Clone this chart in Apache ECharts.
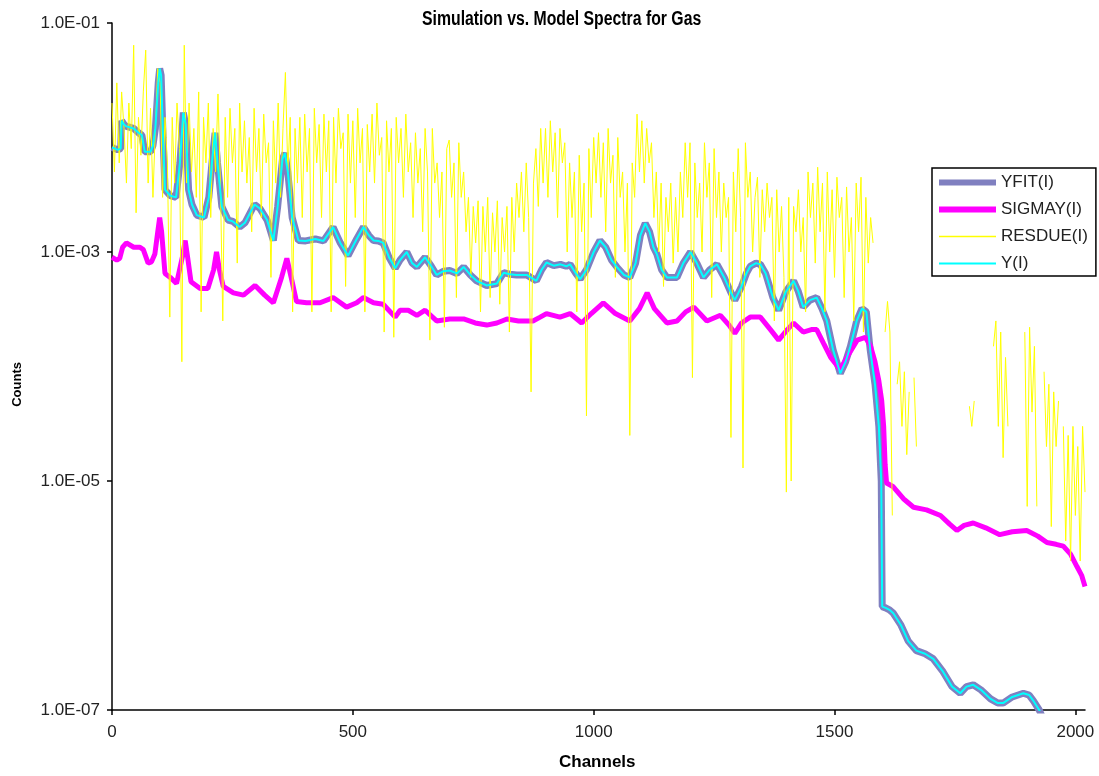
<!DOCTYPE html>
<html>
<head>
<meta charset="utf-8">
<script src="https://cdn.jsdelivr.net/npm/echarts@6/dist/echarts.min.js"></script>
<style>
  html, body { margin: 0; padding: 0; background: #fff; }
  #chart { width: 1099px; height: 776px; }
</style>
</head>
<body>
<div id="chart"></div>
<script>
// fitted spectrum YFIT(I): channel / counts
const fitCh = [0, 12, 18, 20, 25, 30, 45, 55, 62, 68, 80, 85, 90, 96, 99, 102, 106, 110, 121, 133,
  141, 148, 153, 159, 166, 176, 191, 201, 209, 214, 219, 228, 241, 251, 265, 276, 296, 307, 322, 335,
  344, 354, 359, 365, 374, 387, 402, 422, 439, 459, 474, 490, 508, 522, 533, 543, 553, 563, 575, 588,
  598, 612, 623, 633, 650, 663, 674, 688, 701, 716, 730, 744, 757, 778, 799, 813, 826, 840, 861, 881,
  892, 902, 917, 931, 943, 951, 963, 972, 985, 1000, 1013, 1025, 1037, 1048, 1063, 1075, 1087, 1097, 1107, 1116,
  1124, 1131, 1141, 1152, 1173, 1186, 1201, 1214, 1228, 1241, 1256, 1271, 1284, 1293, 1307, 1317, 1325, 1337, 1346, 1357,
  1372, 1384, 1399, 1415, 1425, 1435, 1449, 1463, 1474, 1484, 1497, 1512, 1523, 1533, 1546, 1557, 1566, 1574, 1584, 1592,
  1597, 1599, 1606, 1614, 1622, 1638, 1653, 1670, 1688, 1705, 1724, 1744, 1761, 1774, 1788, 1804, 1824, 1839, 1850, 1869,
  1892, 1904, 1913, 1925, 1935];
const fitVal = [8.2e-3, 7.8e-3, 8e-3, 1.4e-2, 1.3e-2, 1.25e-2, 1.2e-2, 1.1e-2, 1.05e-2, 7.5e-3, 7.5e-3, 8.5e-3, 1.2e-2, 3e-2, 4e-2, 3.5e-2, 1e-2, 3.5e-3, 3.1e-3, 3e-3,
  6e-3, 1.65e-2, 1.3e-2, 3.5e-3, 2.6e-3, 2.1e-3, 2e-3, 3e-3, 7e-3, 1.1e-2, 6e-3, 2.5e-3, 1.9e-3, 1.85e-3, 1.65e-3, 1.8e-3, 2.6e-3, 2.4e-3, 1.9e-3, 1.26e-3,
  2.5e-3, 6.5e-3, 7.3e-3, 5e-3, 2e-3, 1.26e-3, 1.25e-3, 1.3e-3, 1.25e-3, 1.65e-3, 1.2e-3, 9.3e-4, 1.3e-3, 1.65e-3, 1.4e-3, 1.26e-3, 1.25e-3, 1.2e-3, 9e-4, 7.2e-4,
  8.5e-4, 1e-3, 8e-4, 7.4e-4, 9e-4, 7.5e-4, 6.3e-4, 6.8e-4, 6.9e-4, 6.5e-4, 7.4e-4, 6.3e-4, 5.6e-4, 5.1e-4, 5.3e-4, 6.6e-4, 6.4e-4, 6.3e-4, 6.3e-4, 5.6e-4,
  7e-4, 8.1e-4, 7.6e-4, 7.8e-4, 7.5e-4, 7.8e-4, 6.5e-4, 5.8e-4, 7e-4, 1e-3, 1.26e-3, 1.1e-3, 8.5e-4, 7.4e-4, 6.3e-4, 6e-4, 8e-4, 1.4e-3, 1.78e-3, 1.5e-3,
  1.1e-3, 9.6e-4, 7e-4, 6e-4, 6e-4, 8e-4, 1e-3, 8e-4, 6e-4, 7e-4, 7.8e-4, 6e-4, 4.5e-4, 3.8e-4, 5e-4, 6.5e-4, 7.5e-4, 8e-4, 7.8e-4, 6.5e-4,
  4e-4, 3.1e-4, 4.5e-4, 5.6e-4, 4.5e-4, 3.3e-4, 3.8e-4, 4e-4, 3.2e-4, 2.5e-4, 1.4e-4, 8.7e-5, 1.1e-4, 1.5e-4, 2.5e-4, 3.2e-4, 3e-4, 1.4e-4, 7e-5, 3e-5,
  1e-5, 8e-7, 7.8e-7, 7.5e-7, 7e-7, 5.5e-7, 4e-7, 3.3e-7, 3.1e-7, 2.8e-7, 2.2e-7, 1.6e-7, 1.4e-7, 1.6e-7, 1.66e-7, 1.5e-7, 1.25e-7, 1.15e-7, 1.15e-7, 1.3e-7,
  1.4e-7, 1.35e-7, 1.2e-7, 1e-7, 8e-8];

// measured spectrum Y(I) lies on the fit within a line width
const obsCh = fitCh;
const obsVal = fitVal;

// SIGMAY(I)
const sigCh = [0, 10, 16, 22, 30, 45, 58, 65, 75, 82, 89, 95, 99, 103, 110, 121, 134, 146, 152, 157,
  164, 183, 199, 211, 217, 223, 231, 252, 273, 297, 317, 335, 352, 363, 372, 383, 404, 432, 459, 487,
  508, 522, 543, 563, 588, 598, 615, 633, 650, 674, 701, 730, 754, 778, 799, 820, 844, 874, 889, 902,
  930, 951, 975, 995, 1020, 1045, 1075, 1095, 1111, 1126, 1152, 1173, 1191, 1208, 1235, 1263, 1281, 1293, 1307, 1325,
  1346, 1367, 1384, 1402, 1415, 1435, 1452, 1463, 1477, 1492, 1512, 1528, 1547, 1564, 1575, 1584, 1592, 1598, 1602, 1605,
  1608, 1622, 1643, 1664, 1691, 1720, 1739, 1754, 1769, 1788, 1814, 1843, 1869, 1899, 1922, 1941, 1960, 1975, 1990, 2003,
  2013, 2020];
const sigVal = [9e-4, 8.5e-4, 8.8e-4, 1.1e-3, 1.2e-3, 1.1e-3, 1.1e-3, 1.05e-3, 8e-4, 8.2e-4, 9.6e-4, 1.5e-3, 2e-3, 1.5e-3, 6.5e-4, 6e-4, 5.3e-4, 9e-4, 1.26e-3, 9e-4,
  5.5e-4, 4.8e-4, 4.8e-4, 7e-4, 1e-3, 7e-4, 5e-4, 4.4e-4, 4.2e-4, 5.1e-4, 4.2e-4, 3.6e-4, 6e-4, 8.8e-4, 6e-4, 3.7e-4, 3.6e-4, 3.6e-4, 4e-4, 3.3e-4,
  3.6e-4, 4e-4, 3.6e-4, 3.5e-4, 2.7e-4, 3.1e-4, 3.1e-4, 2.8e-4, 3.1e-4, 2.5e-4, 2.6e-4, 2.6e-4, 2.4e-4, 2.3e-4, 2.4e-4, 2.6e-4, 2.5e-4, 2.5e-4, 2.7e-4, 2.9e-4,
  2.7e-4, 2.9e-4, 2.4e-4, 2.9e-4, 3.6e-4, 2.9e-4, 2.5e-4, 3.2e-4, 4.4e-4, 3.2e-4, 2.4e-4, 2.5e-4, 3e-4, 3.3e-4, 2.5e-4, 2.8e-4, 2.3e-4, 1.95e-4, 2.4e-4, 2.7e-4,
  2.7e-4, 2.1e-4, 1.7e-4, 2.1e-4, 2.4e-4, 2e-4, 2.1e-4, 2.1e-4, 1.6e-4, 1.2e-4, 9.4e-5, 1.25e-4, 1.7e-4, 1.8e-4, 1.5e-4, 1.1e-4, 7.5e-5, 5e-5, 3e-5, 1.4e-5,
  9.6e-6, 8.9e-6, 7e-6, 5.9e-6, 5.6e-6, 5e-6, 4.2e-6, 3.7e-6, 4.1e-6, 4.3e-6, 3.9e-6, 3.4e-6, 3.6e-6, 3.7e-6, 3.3e-6, 2.9e-6, 2.8e-6, 2.7e-6, 2.3e-6, 1.8e-6,
  1.5e-6, 1.2e-6];

// RESDUE(I), one value every 5 channels, null where the residual is not positive
const resStep = 5;
const resVal = [
  2e-2, 5e-3, 3e-2, 6e-3, 2.5e-2, 1.2e-2, 4e-3, 2e-2, 8e-3, 6.4e-2, 2.2e-3, 1.5e-2, 7e-3, 2.5e-2, 5.8e-2, 4e-3, 1.8e-2, 3e-3, 1.2e-2, 4e-2,
  3e-2, 3e-3, 1.5e-2, 6e-3, 2.7e-4, 1.5e-2, 4e-3, 2e-2, 8e-3, 1.1e-4, 6.4e-2, 4e-3, 2e-2, 5e-3, 1.2e-2, 3e-3, 2.5e-2, 3e-4, 1.5e-2, 6e-3,
  2e-2, 2e-3, 1.2e-2, 5e-3, 2.4e-2, 4e-3, 2.5e-4, 1.5e-2, 3e-3, 1.8e-2, 6e-3, 1.2e-2, 8e-4, 2e-2, 5e-3, 1.4e-2, 4e-3, 1e-2, 1.5e-3, 1.8e-2,
  5e-3, 1.2e-2, 2e-3, 1.6e-2, 6e-3, 9e-3, 6e-4, 1.4e-2, 4e-3, 2e-2, 3e-3, 1.2e-2, 3.7e-2, 5e-3, 1.5e-2, 3e-4, 1.2e-2, 4e-3, 1.5e-2, 2e-3,
  1.6e-2, 5e-3, 1.2e-2, 3e-4, 1.8e-2, 6e-3, 1.3e-2, 2e-3, 1.6e-2, 5e-3, 1.4e-2, 3e-4, 1.5e-2, 4e-3, 1.8e-2, 8e-3, 1.1e-2, 5e-4, 1.6e-2, 4e-3,
  1.4e-2, 2e-3, 1.8e-2, 6e-3, 1.2e-2, 3e-4, 1.3e-2, 5e-3, 1.6e-2, 4e-3, 2e-2, 7e-3, 1e-2, 2e-4, 1.4e-2, 5e-3, 1.2e-2, 1.8e-4, 1.5e-2, 6e-3,
  1.2e-2, 3e-3, 1.6e-2, 5e-3, 9e-3, 2e-3, 1.1e-2, 4e-3, 8e-3, 1.5e-3, 1.2e-2, 5e-3, 1.7e-4, 1.2e-2, 4e-3, 6e-3, 2e-3, 5e-3, 2.2e-4, 8e-3,
  9.5e-3, 3e-3, 6e-3, 4e-4, 9e-3, 3e-3, 5e-3, 1.5e-3, 3e-3, 6e-4, 2.5e-3, 1.2e-3, 2.8e-3, 3e-4, 2.5e-3, 1e-3, 3e-3, 4e-4, 2.2e-3, 1e-3,
  2.8e-3, 3.5e-4, 2e-3, 1e-3, 2.5e-3, 2e-4, 3e-3, 1e-3, 4e-3, 2e-3, 5e-3, 1.5e-3, 6e-3, 2e-3, 6e-5, 4e-3, 8e-3, 2.5e-3, 1.2e-2, 4e-3,
  1.2e-2, 3e-3, 1.4e-2, 5e-3, 1.1e-2, 2e-3, 1.2e-2, 6e-3, 9e-3, 1e-3, 6e-3, 2e-3, 5e-3, 3e-4, 7e-3, 1.5e-3, 4e-3, 3.7e-5, 8e-3, 2e-3,
  1e-2, 4e-3, 1.1e-2, 3e-3, 9e-3, 1.5e-3, 1.2e-2, 4e-3, 7e-3, 6e-4, 1e-2, 3e-3, 5e-3, 1e-3, 4e-3, 2.5e-5, 6e-3, 3e-3, 1.6e-2, 5e-3,
  1.4e-2, 4e-3, 1.2e-2, 6e-3, 9e-3, 2e-3, 5e-3, 1e-3, 4e-3, 5e-4, 3e-3, 1.5e-3, 4e-3, 8e-4, 3e-3, 1e-3, 5e-3, 2e-3, 9e-3, 3e-3,
  9e-3, 8e-5, 6e-3, 2e-3, 4e-3, 1e-3, 9e-3, 3e-3, 6e-3, 4e-4, 8e-3, 2e-3, 5e-3, 1e-3, 4e-3, 2e-3, 3e-3, 2.4e-5, 5e-3, 1.5e-3,
  8e-3, 2e-3, 1.3e-5, 9e-3, 3e-3, 5e-3, 1e-3, 3e-3, 4.5e-3, 6e-4, 3.5e-3, 1.5e-3, 4e-3, 2e-3, 3e-3, 2.5e-4, 3.5e-3, 1e-3, 2.5e-3, 6e-4,
  8e-6, 3e-3, 1e-5, 2.5e-3, 1.5e-3, 3.5e-3, 1e-3, 2e-3, 3e-4, 5e-3, 2e-3, 4e-3, 8e-4, 5.5e-3, 1.5e-3, 4e-3, 3e-4, 5e-3, 1e-3, 3.5e-3,
  6e-4, 4.5e-3, 2e-3, 3e-3, 4e-4, 3.7e-3, 1e-3, 2e-3, 2.5e-4, 4e-3, 1.5e-3, 4.5e-3, 2e-4, 3e-3, 8e-4, 2e-3, 1.2e-3, null, null, null,
  null, 2e-4, 3.7e-4, 2e-4, 5e-6, null, 7e-5, 1.1e-4, 3e-5, 9e-5, 1.7e-5, 6e-5, null, 8e-5, 2e-5, null, null, null, null, null,
  null, null, null, null, null, null, null, null, null, null, null, null, null, null, null, null, 4.5e-5, 3e-5, 5e-5, null,
  null, null, null, null, null, null, 1.5e-4, 2.5e-4, 3e-5, 2e-4, 1.6e-5, 1.2e-4, 3e-5, null, null, null, null, null, null, 2e-4,
  6e-6, 2.2e-4, 4e-5, 1.5e-4, 6e-6, null, null, 9e-5, 2e-5, 7e-5, 4e-6, 6e-5, 2e-5, 5e-5, null, 3e-5, 3e-6, 2.5e-5, 2e-6, 3e-5,
  5e-6, 2e-5, 2e-6, 3e-5, 8e-6
];

const xTicks = [0, 500, 1000, 1500, 2000];
const yTicks = [1e-7, 1e-5, 1e-3, 1e-1];

function pairs(xs, ys) {
  return xs.map((x, i) => [x, ys[i]]);
}

// 1e-3 -> "1.0E-03"
function sciLabel(v) {
  const e = Math.round(Math.log10(v));
  return '1.0E' + (e < 0 ? '-' : '+') + String(Math.abs(e)).padStart(2, '0');
}

const chart = echarts.init(document.getElementById('chart'), null, { renderer: 'canvas' });

const font = '"Liberation Sans", Arial, sans-serif';
const hideDot = { color: 'rgba(0,0,0,0)', opacity: 0, borderWidth: 0 };

chart.setOption({
  animation: false,
  backgroundColor: '#fff',
  grid: { left: 112, right: 14, top: 23, bottom: 66 },
  graphic: [
    {
      type: 'text', left: 422, top: 9, scaleX: 0.79,
      style: { text: 'Simulation vs. Model Spectra for Gas', font: 'bold 20px ' + font, fill: '#000' }
    },
    {
      type: 'text', left: 559, top: 754,
      style: { text: 'Channels', font: 'bold 17px ' + font, fill: '#000' }
    },
    {
      type: 'text', left: 11, top: 362, rotation: Math.PI / 2,
      style: { text: 'Counts', font: 'bold 13px ' + font, fill: '#000' }
    }
  ],
  legend: {
    orient: 'vertical',
    left: 932, top: 168,
    padding: [6, 8, 4, 4],
    itemWidth: 57, itemHeight: 14, itemGap: 10,
    borderColor: '#000', borderWidth: 1.5,
    backgroundColor: '#fff',
    itemStyle: hideDot,
    textStyle: { fontFamily: font, fontSize: 17, color: '#222' },
    data: [
      { name: 'YFIT(I)', itemStyle: hideDot, lineStyle: { width: 6 } },
      { name: 'SIGMAY(I)', itemStyle: hideDot, lineStyle: { width: 6 } },
      { name: 'RESDUE(I)', itemStyle: hideDot, lineStyle: { width: 1.5 } },
      { name: 'Y(I)', itemStyle: hideDot, lineStyle: { width: 2 } }
    ]
  },
  xAxis: {
    type: 'value', min: 0, max: 2020,
    splitLine: { show: false },
    axisLine: { onZero: false, lineStyle: { color: '#000', width: 1.5 } },
    axisTick: { length: 5, lineStyle: { color: '#000', width: 1.5 }, customValues: xTicks },
    axisLabel: {
      customValues: xTicks, formatter: v => String(v),
      fontFamily: font, fontSize: 17, color: '#222', margin: 14
    }
  },
  yAxis: {
    type: 'log', logBase: 10, min: 1e-7, max: 1e-1,
    splitLine: { show: false },
    minorTick: { show: false },
    axisLine: { show: true, lineStyle: { color: '#000', width: 1.5 } },
    axisTick: { show: true, length: 5, lineStyle: { color: '#000', width: 1.5 }, customValues: yTicks },
    axisLabel: {
      customValues: yTicks, formatter: sciLabel,
      fontFamily: font, fontSize: 17, color: '#222', margin: 12
    }
  },
  series: [
    {
      name: 'YFIT(I)', type: 'line', data: pairs(fitCh, fitVal),
      showSymbol: false, symbol: 'none', clip: true,
      lineStyle: { color: '#8080C0', width: 7 }, itemStyle: { color: '#8080C0' }
    },
    {
      name: 'SIGMAY(I)', type: 'line', data: pairs(sigCh, sigVal),
      showSymbol: false, symbol: 'none', clip: true,
      lineStyle: { color: '#FF00FF', width: 5 }, itemStyle: { color: '#FF00FF' }
    },
    {
      name: 'RESDUE(I)', type: 'line', data: resVal.map((v, i) => [i * resStep, v]),
      showSymbol: false, symbol: 'none', clip: true, connectNulls: false,
      lineStyle: { color: '#FFFF00', width: 1 }, itemStyle: { color: '#FFFF00' }
    },
    {
      name: 'Y(I)', type: 'line', data: pairs(obsCh, obsVal),
      showSymbol: false, symbol: 'none', clip: true,
      lineStyle: { color: '#00FFFF', width: 2 }, itemStyle: { color: '#00FFFF' }
    }
  ]
});
</script>
</body>
</html>
